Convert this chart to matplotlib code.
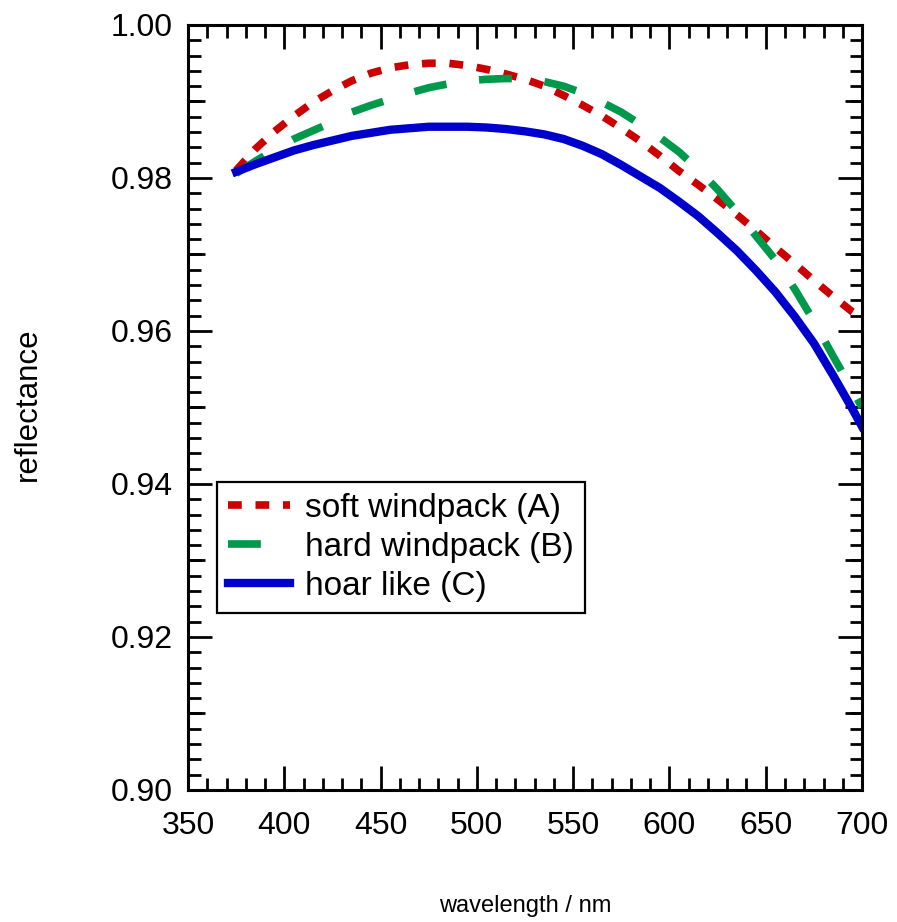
import matplotlib
matplotlib.use("Agg")
import matplotlib.pyplot as plt
from matplotlib.ticker import MultipleLocator, FormatStrFormatter

plt.rcParams['font.family'] = ['Liberation Sans', 'DejaVu Sans']

# reflectance spectra of three snow surfaces
wavelength = [375, 385, 395, 405, 415, 425, 435, 445, 455, 465, 475, 485,
              495, 505, 515, 525, 535, 545, 555, 565, 575, 585, 595, 605,
              615, 625, 635, 645, 655, 665, 675, 685, 695, 700]
soft_windpack = [0.9810, 0.9838, 0.9861, 0.9881, 0.9899, 0.9914, 0.9927,
                 0.9937, 0.9944, 0.9948, 0.9950, 0.9950, 0.9947, 0.9942,
                 0.9936, 0.9929, 0.9920, 0.9908, 0.9895, 0.9881, 0.9865,
                 0.9848, 0.9829, 0.9809, 0.9791, 0.9772, 0.9752, 0.9731,
                 0.9709, 0.9688, 0.9666, 0.9645, 0.9625, 0.9617]
hard_windpack = [0.9806, 0.9822, 0.9837, 0.9851, 0.9862, 0.9873, 0.9886,
                 0.9895, 0.9903, 0.9911, 0.9918, 0.9923, 0.9927, 0.9929,
                 0.9930, 0.9930, 0.9926, 0.9920, 0.9911, 0.9899, 0.9886,
                 0.9870, 0.9853, 0.9834, 0.9811, 0.9785, 0.9756, 0.9724,
                 0.9693, 0.9655, 0.9613, 0.9567, 0.9523, 0.9500]
hoar_like = [0.9808, 0.9818, 0.9827, 0.9836, 0.9843, 0.9849, 0.9855,
             0.9859, 0.9863, 0.9865, 0.9867, 0.9867, 0.9867, 0.9866,
             0.9864, 0.9861, 0.9857, 0.9851, 0.9842, 0.9831, 0.9817,
             0.9802, 0.9787, 0.9769, 0.9750, 0.9728, 0.9705, 0.9679,
             0.9651, 0.9619, 0.9584, 0.9542, 0.9498, 0.9475]
labels = ["soft windpack (A)", "hard windpack (B)", "hoar like (C)"]

fig = plt.figure(figsize=(8.97, 9.22), dpi=100)
ax = fig.add_axes([0.2096, 0.1432, 0.7514, 0.8297])

ax.plot(wavelength, soft_windpack, color="#cc0000", lw=5.5,
        dashes=(1.8, 1.8), label=labels[0])
ax.plot(wavelength, hard_windpack, color="#00994c", lw=5.5,
        dashes=(4.3, 4.3), label=labels[1])
ax.plot(wavelength, hoar_like, color="#0000cc", lw=6, label=labels[2])

ax.set_xlim(350, 700)
ax.set_ylim(0.90, 1.00)
ax.xaxis.set_major_locator(MultipleLocator(50))
ax.xaxis.set_minor_locator(MultipleLocator(10))
ax.yaxis.set_major_locator(MultipleLocator(0.02))
ax.yaxis.set_minor_locator(MultipleLocator(0.002))
ax.yaxis.set_major_formatter(FormatStrFormatter('%.2f'))

ax.tick_params(which='both', direction='in', top=True, right=True, width=2)
ax.tick_params(which='major', length=17, labelsize=23)
ax.tick_params(axis='x', which='major', pad=15)
ax.tick_params(axis='y', which='major', pad=11)
ax.tick_params(which='minor', length=9)
for s in ax.spines.values():
    s.set_linewidth(2.2)

# medium ticks every 0.01 on both y sides
for side in ('left', 'right'):
    sec = ax.secondary_yaxis(side)
    sec.set_yticks([0.91, 0.93, 0.95, 0.97, 0.99])
    sec.tick_params(direction='in', length=12.5, width=2,
                    labelleft=False, labelright=False)
    sec.spines[side].set_visible(False)

ax.set_xlabel("wavelength / nm", fontsize=17)
ax.xaxis.set_label_coords(0.5, -0.137)
ax.set_ylabel("reflectance", fontsize=22.5)
ax.yaxis.set_label_coords(-0.216, 0.504)

leg = ax.legend(loc='upper left', bbox_to_anchor=(0.043, 0.4026),
                borderaxespad=0, fontsize=24, fancybox=False,
                edgecolor='black', framealpha=1, handlelength=1.85,
                handletextpad=0.45, labelspacing=0.24, borderpad=0.33)
leg.get_frame().set_linewidth(1.6)

fig.savefig("out.png", dpi=100)
